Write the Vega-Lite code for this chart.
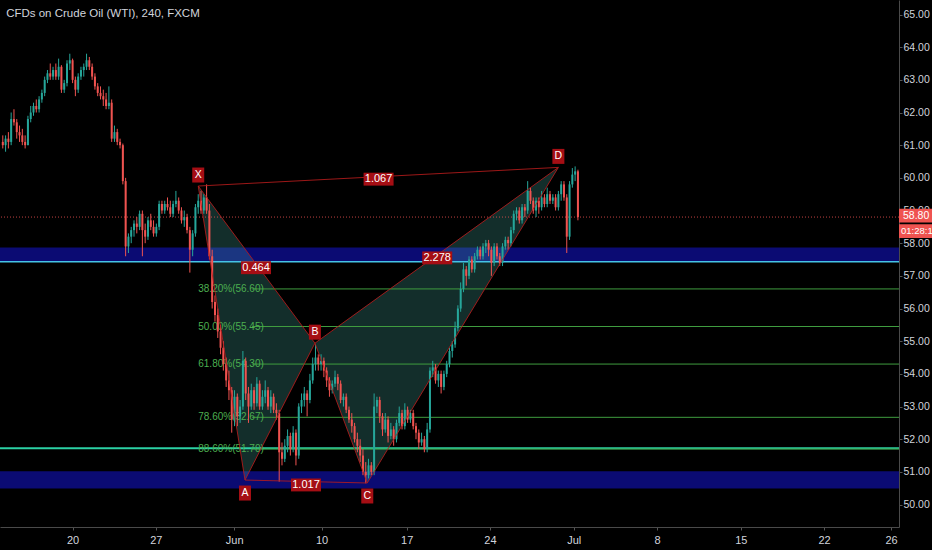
{
  "$schema": "https://vega.github.io/schema/vega-lite/v6.json",
  "width": 899,
  "height": 527,
  "autosize": {"type": "none"},
  "padding": {"left": 0, "top": 0, "right": 33, "bottom": 23},
  "background": "#000000",
  "config": {
    "view": {"stroke": null},
    "axis": {"labelOverlap": false, "labelFlush": false, "labelBound": false},
    "axisY": {"tickCount": 16, "values": [50, 51, 52, 53, 54, 55, 56, 57, 58, 59, 60, 61, 62, 63, 64, 65]},
    "scale": {"continuousPadding": 0}
  },
  "datasets": {
    "one": [{}],
    "candles": [
      {"i":1,"o":61.1,"h":61.3,"l":60.9,"c":61.0},
      {"i":2,"o":61.0,"h":61.3,"l":60.8,"c":61.2},
      {"i":3,"o":61.2,"h":61.4,"l":60.9,"c":61.1},
      {"i":4,"o":61.1,"h":62.0,"l":61.0,"c":61.8},
      {"i":5,"o":61.8,"h":62.1,"l":61.6,"c":61.7},
      {"i":6,"o":61.7,"h":61.8,"l":61.2,"c":61.4},
      {"i":7,"o":61.4,"h":61.6,"l":61.1,"c":61.3},
      {"i":8,"o":61.3,"h":61.5,"l":61.0,"c":61.1},
      {"i":9,"o":61.1,"h":61.3,"l":60.9,"c":61.0},
      {"i":10,"o":61.0,"h":61.9,"l":61.0,"c":61.8},
      {"i":11,"o":61.8,"h":62.2,"l":61.7,"c":62.0},
      {"i":12,"o":62.0,"h":62.3,"l":61.9,"c":62.2},
      {"i":13,"o":62.2,"h":62.4,"l":62.0,"c":62.1},
      {"i":14,"o":62.1,"h":62.5,"l":62.0,"c":62.4},
      {"i":15,"o":62.4,"h":62.7,"l":62.3,"c":62.6},
      {"i":16,"o":62.6,"h":63.1,"l":62.5,"c":63.0},
      {"i":17,"o":63.0,"h":63.3,"l":62.9,"c":63.2},
      {"i":18,"o":63.2,"h":63.5,"l":63.0,"c":63.1},
      {"i":19,"o":63.1,"h":63.4,"l":63.0,"c":63.3},
      {"i":20,"o":63.3,"h":63.5,"l":63.0,"c":63.1},
      {"i":21,"o":63.1,"h":63.65,"l":63.0,"c":63.4},
      {"i":22,"o":63.4,"h":63.45,"l":62.6,"c":62.7},
      {"i":23,"o":62.7,"h":63.0,"l":62.6,"c":62.9},
      {"i":24,"o":62.9,"h":63.6,"l":62.8,"c":63.5},
      {"i":25,"o":63.5,"h":63.8,"l":63.3,"c":63.6},
      {"i":26,"o":63.6,"h":63.65,"l":62.9,"c":63.0},
      {"i":27,"o":63.0,"h":63.1,"l":62.5,"c":62.7},
      {"i":28,"o":62.7,"h":63.2,"l":62.6,"c":63.1},
      {"i":29,"o":63.1,"h":63.4,"l":63.0,"c":63.3},
      {"i":30,"o":63.3,"h":63.5,"l":63.1,"c":63.4},
      {"i":31,"o":63.4,"h":63.8,"l":63.3,"c":63.6},
      {"i":32,"o":63.6,"h":63.7,"l":63.3,"c":63.4},
      {"i":33,"o":63.4,"h":63.5,"l":63.0,"c":63.1},
      {"i":34,"o":63.1,"h":63.2,"l":62.7,"c":62.8},
      {"i":35,"o":62.8,"h":62.9,"l":62.5,"c":62.6},
      {"i":36,"o":62.6,"h":62.8,"l":62.4,"c":62.5},
      {"i":37,"o":62.5,"h":62.7,"l":62.2,"c":62.4},
      {"i":38,"o":62.4,"h":62.6,"l":62.1,"c":62.2},
      {"i":39,"o":62.2,"h":62.8,"l":62.1,"c":62.3},
      {"i":40,"o":62.3,"h":62.4,"l":61.1,"c":61.2},
      {"i":41,"o":61.2,"h":61.6,"l":61.1,"c":61.4},
      {"i":42,"o":61.4,"h":61.5,"l":61.0,"c":61.1},
      {"i":43,"o":61.1,"h":61.2,"l":60.9,"c":61.0},
      {"i":44,"o":61.0,"h":61.05,"l":59.8,"c":59.9},
      {"i":45,"o":59.9,"h":60.0,"l":57.6,"c":57.9},
      {"i":46,"o":57.9,"h":58.3,"l":57.7,"c":58.2},
      {"i":47,"o":58.2,"h":58.5,"l":58.0,"c":58.4},
      {"i":48,"o":58.4,"h":58.7,"l":58.2,"c":58.6},
      {"i":49,"o":58.6,"h":58.8,"l":58.3,"c":58.5},
      {"i":50,"o":58.5,"h":59.0,"l":58.4,"c":58.9},
      {"i":51,"o":58.9,"h":59.0,"l":57.6,"c":58.4},
      {"i":52,"o":58.4,"h":58.6,"l":58.0,"c":58.2},
      {"i":53,"o":58.2,"h":58.8,"l":58.1,"c":58.7},
      {"i":54,"o":58.7,"h":58.9,"l":58.4,"c":58.5},
      {"i":55,"o":58.5,"h":58.7,"l":58.2,"c":58.3},
      {"i":56,"o":58.3,"h":58.6,"l":58.2,"c":58.5},
      {"i":57,"o":58.5,"h":59.3,"l":58.4,"c":59.2},
      {"i":58,"o":59.2,"h":59.3,"l":58.9,"c":59.0},
      {"i":59,"o":59.0,"h":59.3,"l":58.9,"c":59.2},
      {"i":60,"o":59.2,"h":59.4,"l":59.0,"c":59.1},
      {"i":61,"o":59.1,"h":59.3,"l":58.8,"c":58.9},
      {"i":62,"o":58.9,"h":59.3,"l":58.8,"c":59.2},
      {"i":63,"o":59.2,"h":59.6,"l":59.1,"c":59.3},
      {"i":64,"o":59.3,"h":59.4,"l":58.9,"c":59.0},
      {"i":65,"o":59.0,"h":59.1,"l":58.6,"c":58.7},
      {"i":66,"o":58.7,"h":59.0,"l":58.5,"c":58.8},
      {"i":67,"o":58.8,"h":58.9,"l":58.3,"c":58.4},
      {"i":68,"o":58.4,"h":58.5,"l":57.1,"c":57.8},
      {"i":69,"o":57.8,"h":58.4,"l":57.6,"c":58.3},
      {"i":70,"o":58.3,"h":59.2,"l":58.2,"c":59.1},
      {"i":71,"o":59.1,"h":59.5,"l":58.9,"c":59.3},
      {"i":72,"o":59.3,"h":59.6,"l":58.9,"c":59.0},
      {"i":73,"o":59.0,"h":59.5,"l":58.9,"c":59.4},
      {"i":74,"o":59.4,"h":59.8,"l":58.9,"c":59.0},
      {"i":75,"o":59.0,"h":59.2,"l":57.5,"c":57.6},
      {"i":76,"o":57.6,"h":57.8,"l":56.0,"c":56.2},
      {"i":77,"o":56.2,"h":56.4,"l":55.6,"c":55.8},
      {"i":78,"o":55.8,"h":56.0,"l":55.1,"c":55.3},
      {"i":79,"o":55.3,"h":55.5,"l":54.6,"c":54.8},
      {"i":80,"o":54.8,"h":55.0,"l":54.1,"c":54.3},
      {"i":81,"o":54.3,"h":54.5,"l":53.6,"c":53.8},
      {"i":82,"o":53.8,"h":54.1,"l":53.2,"c":53.5},
      {"i":83,"o":53.5,"h":53.6,"l":52.2,"c":52.6},
      {"i":84,"o":52.6,"h":53.5,"l":52.4,"c":53.3},
      {"i":85,"o":53.3,"h":53.4,"l":52.4,"c":52.7},
      {"i":86,"o":52.7,"h":53.2,"l":52.5,"c":53.0},
      {"i":87,"o":53.0,"h":54.7,"l":52.9,"c":54.4},
      {"i":88,"o":54.4,"h":54.5,"l":53.2,"c":53.4},
      {"i":89,"o":53.4,"h":53.6,"l":52.5,"c":53.0},
      {"i":90,"o":53.0,"h":53.7,"l":52.9,"c":53.5},
      {"i":91,"o":53.5,"h":53.6,"l":52.9,"c":53.1},
      {"i":92,"o":53.1,"h":53.9,"l":53.0,"c":53.7},
      {"i":93,"o":53.7,"h":53.8,"l":52.9,"c":53.0},
      {"i":94,"o":53.0,"h":53.5,"l":52.9,"c":53.3},
      {"i":95,"o":53.3,"h":53.8,"l":53.1,"c":53.5},
      {"i":96,"o":53.5,"h":53.6,"l":52.9,"c":53.0},
      {"i":97,"o":53.0,"h":53.5,"l":52.8,"c":53.3},
      {"i":98,"o":53.3,"h":53.4,"l":52.8,"c":52.9},
      {"i":99,"o":52.9,"h":53.1,"l":52.6,"c":52.8},
      {"i":100,"o":52.8,"h":52.9,"l":50.7,"c":51.6},
      {"i":101,"o":51.6,"h":51.9,"l":51.2,"c":51.4},
      {"i":102,"o":51.4,"h":52.0,"l":51.3,"c":51.8},
      {"i":103,"o":51.8,"h":52.3,"l":51.6,"c":52.1},
      {"i":104,"o":52.1,"h":52.2,"l":51.5,"c":51.7},
      {"i":105,"o":51.7,"h":52.4,"l":51.6,"c":52.2},
      {"i":106,"o":52.2,"h":52.3,"l":51.2,"c":51.5},
      {"i":107,"o":51.5,"h":53.1,"l":51.4,"c":53.0},
      {"i":108,"o":53.0,"h":53.4,"l":52.8,"c":53.2},
      {"i":109,"o":53.2,"h":53.6,"l":53.0,"c":53.4},
      {"i":110,"o":53.4,"h":53.5,"l":52.7,"c":53.2},
      {"i":111,"o":53.2,"h":54.0,"l":53.1,"c":53.8},
      {"i":112,"o":53.8,"h":54.5,"l":53.7,"c":54.3},
      {"i":113,"o":54.3,"h":54.9,"l":54.1,"c":54.5},
      {"i":114,"o":54.5,"h":54.6,"l":54.1,"c":54.3},
      {"i":115,"o":54.3,"h":54.6,"l":54.1,"c":54.4},
      {"i":116,"o":54.4,"h":54.5,"l":53.9,"c":54.1},
      {"i":117,"o":54.1,"h":54.2,"l":53.6,"c":53.8},
      {"i":118,"o":53.8,"h":53.9,"l":53.3,"c":53.5},
      {"i":119,"o":53.5,"h":53.8,"l":53.4,"c":53.7},
      {"i":120,"o":53.7,"h":54.1,"l":53.6,"c":53.9},
      {"i":121,"o":53.9,"h":54.0,"l":53.5,"c":53.7},
      {"i":122,"o":53.7,"h":53.8,"l":53.1,"c":53.2},
      {"i":123,"o":53.2,"h":53.4,"l":53.0,"c":53.3},
      {"i":124,"o":53.3,"h":53.4,"l":52.8,"c":52.9},
      {"i":125,"o":52.9,"h":53.0,"l":52.5,"c":52.6},
      {"i":126,"o":52.6,"h":52.8,"l":52.2,"c":52.4},
      {"i":127,"o":52.4,"h":52.5,"l":51.9,"c":52.0},
      {"i":128,"o":52.0,"h":52.2,"l":51.6,"c":51.8},
      {"i":129,"o":51.8,"h":52.0,"l":51.3,"c":51.5},
      {"i":130,"o":51.5,"h":51.7,"l":50.9,"c":51.0},
      {"i":131,"o":51.0,"h":51.3,"l":50.65,"c":50.9},
      {"i":132,"o":50.9,"h":51.4,"l":50.8,"c":51.2},
      {"i":133,"o":51.2,"h":51.3,"l":50.9,"c":51.0},
      {"i":134,"o":51.0,"h":53.4,"l":50.9,"c":53.0},
      {"i":135,"o":53.0,"h":53.3,"l":52.8,"c":53.2},
      {"i":136,"o":53.2,"h":53.3,"l":52.5,"c":52.7},
      {"i":137,"o":52.7,"h":52.8,"l":52.1,"c":52.3},
      {"i":138,"o":52.3,"h":52.8,"l":52.2,"c":52.6},
      {"i":139,"o":52.6,"h":52.7,"l":51.9,"c":52.1},
      {"i":140,"o":52.1,"h":52.5,"l":52.0,"c":52.3},
      {"i":141,"o":52.3,"h":52.4,"l":51.8,"c":52.0},
      {"i":142,"o":52.0,"h":52.6,"l":51.9,"c":52.5},
      {"i":143,"o":52.5,"h":53.0,"l":52.4,"c":52.8},
      {"i":144,"o":52.8,"h":52.9,"l":52.3,"c":52.4},
      {"i":145,"o":52.4,"h":53.1,"l":52.3,"c":52.9},
      {"i":146,"o":52.9,"h":53.0,"l":52.5,"c":52.6},
      {"i":147,"o":52.6,"h":52.9,"l":52.5,"c":52.8},
      {"i":148,"o":52.8,"h":52.9,"l":52.3,"c":52.4},
      {"i":149,"o":52.4,"h":52.5,"l":52.0,"c":52.2},
      {"i":150,"o":52.2,"h":52.3,"l":51.7,"c":51.9},
      {"i":151,"o":51.9,"h":52.2,"l":51.8,"c":52.0},
      {"i":152,"o":52.0,"h":52.1,"l":51.6,"c":51.7},
      {"i":153,"o":51.7,"h":52.5,"l":51.6,"c":52.3},
      {"i":154,"o":52.3,"h":54.2,"l":52.2,"c":54.1},
      {"i":155,"o":54.1,"h":54.4,"l":53.9,"c":54.2},
      {"i":156,"o":54.2,"h":54.3,"l":53.7,"c":53.8},
      {"i":157,"o":53.8,"h":54.1,"l":53.6,"c":54.0},
      {"i":158,"o":54.0,"h":54.1,"l":53.4,"c":53.6},
      {"i":159,"o":53.6,"h":54.1,"l":53.5,"c":54.0},
      {"i":160,"o":54.0,"h":54.4,"l":53.9,"c":54.3},
      {"i":161,"o":54.3,"h":54.8,"l":54.2,"c":54.7},
      {"i":162,"o":54.7,"h":55.0,"l":54.5,"c":54.9},
      {"i":163,"o":54.9,"h":55.6,"l":54.8,"c":55.4},
      {"i":164,"o":55.4,"h":56.1,"l":55.3,"c":56.0},
      {"i":165,"o":56.0,"h":56.8,"l":55.9,"c":56.6},
      {"i":166,"o":56.6,"h":57.4,"l":56.5,"c":57.2},
      {"i":167,"o":57.2,"h":57.3,"l":56.7,"c":57.0},
      {"i":168,"o":57.0,"h":57.6,"l":56.9,"c":57.5},
      {"i":169,"o":57.5,"h":57.6,"l":57.1,"c":57.2},
      {"i":170,"o":57.2,"h":57.7,"l":57.1,"c":57.6},
      {"i":171,"o":57.6,"h":57.9,"l":57.5,"c":57.8},
      {"i":172,"o":57.8,"h":57.9,"l":57.5,"c":57.6},
      {"i":173,"o":57.6,"h":58.0,"l":57.5,"c":57.9},
      {"i":174,"o":57.9,"h":58.1,"l":57.7,"c":58.0},
      {"i":175,"o":58.0,"h":58.1,"l":57.6,"c":57.8},
      {"i":176,"o":57.8,"h":57.9,"l":57.0,"c":57.4},
      {"i":177,"o":57.4,"h":58.0,"l":57.3,"c":57.9},
      {"i":178,"o":57.9,"h":58.0,"l":57.5,"c":57.6},
      {"i":179,"o":57.6,"h":57.7,"l":57.3,"c":57.4},
      {"i":180,"o":57.4,"h":58.0,"l":57.3,"c":57.9},
      {"i":181,"o":57.9,"h":58.2,"l":57.8,"c":58.1},
      {"i":182,"o":58.1,"h":58.2,"l":57.8,"c":58.0},
      {"i":183,"o":58.0,"h":58.5,"l":57.9,"c":58.4},
      {"i":184,"o":58.4,"h":59.0,"l":58.3,"c":58.9},
      {"i":185,"o":58.9,"h":59.1,"l":58.7,"c":59.0},
      {"i":186,"o":59.0,"h":59.1,"l":58.6,"c":58.7},
      {"i":187,"o":58.7,"h":59.2,"l":58.6,"c":59.1},
      {"i":188,"o":59.1,"h":59.2,"l":58.8,"c":59.0},
      {"i":189,"o":59.0,"h":59.9,"l":58.9,"c":59.6},
      {"i":190,"o":59.6,"h":59.7,"l":59.2,"c":59.3},
      {"i":191,"o":59.3,"h":59.4,"l":58.9,"c":59.0},
      {"i":192,"o":59.0,"h":59.4,"l":58.8,"c":59.3},
      {"i":193,"o":59.3,"h":59.4,"l":58.9,"c":59.1},
      {"i":194,"o":59.1,"h":59.6,"l":59.0,"c":59.4},
      {"i":195,"o":59.4,"h":59.5,"l":59.1,"c":59.2},
      {"i":196,"o":59.2,"h":59.7,"l":59.1,"c":59.5},
      {"i":197,"o":59.5,"h":59.6,"l":59.2,"c":59.3},
      {"i":198,"o":59.3,"h":59.5,"l":59.2,"c":59.4},
      {"i":199,"o":59.4,"h":59.5,"l":59.0,"c":59.1},
      {"i":200,"o":59.1,"h":59.6,"l":59.0,"c":59.5},
      {"i":201,"o":59.5,"h":59.9,"l":59.3,"c":59.8},
      {"i":202,"o":59.8,"h":59.9,"l":59.3,"c":59.4},
      {"i":203,"o":59.4,"h":59.5,"l":57.7,"c":58.2},
      {"i":204,"o":58.2,"h":59.9,"l":58.1,"c":59.8},
      {"i":205,"o":59.8,"h":60.3,"l":59.7,"c":60.1},
      {"i":206,"o":60.1,"h":60.35,"l":59.9,"c":60.2},
      {"i":207,"o":60.2,"h":60.25,"l":58.7,"c":58.8}
    ],
    "bands": [
      {"y": 57.43, "y2": 57.87},
      {"y": 50.49, "y2": 51.02}
    ],
    "tri": [
      {"g": "XAB", "x": 71.0, "y": 59.75, "y2": 59.75},
      {"g": "XAB", "x": 87.75, "y": 57.82, "y2": 50.75},
      {"g": "XAB", "x": 112.8, "y": 54.94, "y2": 54.94},
      {"g": "BCD", "x": 112.8, "y": 54.94, "y2": 54.94},
      {"g": "BCD", "x": 131.55, "y": 56.1, "y2": 50.66},
      {"g": "BCD", "x": 200.0, "y": 60.32, "y2": 60.32}
    ],
    "seg": [
      {"x": 71.0, "y": 59.75, "x2": 87.75, "y2": 50.75},
      {"x": 87.75, "y": 50.75, "x2": 112.8, "y2": 54.94},
      {"x": 112.8, "y": 54.94, "x2": 131.55, "y2": 50.66},
      {"x": 131.55, "y": 50.66, "x2": 200.0, "y2": 60.32},
      {"x": 71.0, "y": 59.75, "x2": 112.8, "y2": 54.94},
      {"x": 112.8, "y": 54.94, "x2": 200.0, "y2": 60.32},
      {"x": 71.0, "y": 59.75, "x2": 200.0, "y2": 60.32},
      {"x": 87.75, "y": 50.75, "x2": 131.55, "y2": 50.66}
    ],
    "fib": [
      {"v": 56.6, "t": "38.20%(56.60)"},
      {"v": 55.45, "t": "50.00%(55.45)"},
      {"v": 54.3, "t": "61.80%(54.30)"},
      {"v": 52.67, "t": "78.60%(52.67)"},
      {"v": 51.7, "t": "88.60%(51.70)"}
    ],
    "pts": [
      {"k": "X", "x": 71.0, "y": 59.75, "p": "t"},
      {"k": "A", "x": 87.75, "y": 50.75, "p": "b"},
      {"k": "B", "x": 112.8, "y": 54.94, "p": "t"},
      {"k": "C", "x": 131.55, "y": 50.66, "p": "b"},
      {"k": "D", "x": 200.0, "y": 60.32, "p": "t"}
    ],
    "ratios": [
      {"t": "0.464", "x": 91.7, "y": 57.25},
      {"t": "1.067", "x": 135.6, "y": 59.96},
      {"t": "2.278", "x": 156.6, "y": 57.55},
      {"t": "1.017", "x": 109.6, "y": 50.6}
    ]
  },
  "layer": [
    {
      "data": {"name": "bands"},
      "mark": {"type": "rect", "color": "#0b0b73"},
      "encoding": {
        "x": {"datum": 0, "type": "quantitative",
          "scale": {"domain": [0, 322], "nice": false, "zero": false, "padding": 0},
          "axis": {
            "title": null, "orient": "bottom", "grid": false,
            "values": [25.97, 55.8, 83.89, 115.19, 145.67, 175.47, 205.49, 235.32, 265.34, 295.14, 319.14],
            "labelExpr": "datum.value < 40 ? '20' : datum.value < 70 ? '27' : datum.value < 100 ? 'Jun' : datum.value < 130 ? '10' : datum.value < 160 ? '17' : datum.value < 190 ? '24' : datum.value < 220 ? 'Jul' : datum.value < 250 ? '8' : datum.value < 280 ? '15' : datum.value < 305 ? '22' : '26'",
            "labelColor": "#d1d4dc", "labelFont": "Liberation Sans",
            "labelFontSize": 11, "labelPadding": 4, "tickSize": 3, "tickColor": "#555555",
            "domainColor": "#4a4a4a", "labelFlush": false, "labelOverlap": false
          }
        },
        "x2": {"datum": 322},
        "y": {"field": "y", "type": "quantitative",
          "scale": {"domain": [49.313, 65.444], "nice": false, "zero": false, "padding": 0},
          "axis": {
            "title": null, "orient": "right", "grid": false,
            "values": [50, 51, 52, 53, 54, 55, 56, 57, 58, 59, 60, 61, 62, 63, 64, 65],
            "tickCount": 16,
            "format": ".2f",
            "labelColor": "#d1d4dc", "labelFont": "Liberation Sans",
            "labelFontSize": 10.5, "labelPadding": 1, "tickSize": 3, "tickColor": "#555555",
            "domainColor": "#4a4a4a", "labelFlush": false, "labelOverlap": false
          }
        },
        "y2": {"field": "y2"}
      }
    },
    {
      "data": {"name": "tri"},
      "mark": {"type": "area", "color": "#4db6ac", "opacity": 0.25},
      "encoding": {
        "x": {"field": "x", "type": "quantitative"},
        "y": {"field": "y", "type": "quantitative"},
        "y2": {"field": "y2"},
        "detail": {"field": "g"}
      }
    },
    {
      "data": {"name": "one"},
      "mark": {"type": "rule", "color": "#45c3e6", "strokeWidth": 1.5},
      "encoding": {"y": {"datum": 57.43, "type": "quantitative"}}
    },
    {
      "data": {"name": "one"},
      "mark": {"type": "rule", "color": "#2bd1a4", "strokeWidth": 2},
      "encoding": {"y": {"datum": 51.72, "type": "quantitative"}}
    },
    {
      "data": {"name": "fib"},
      "mark": {"type": "rule", "color": "#3f9c3f", "strokeWidth": 1},
      "encoding": {
        "x": {"datum": 90.3, "type": "quantitative"},
        "x2": {"datum": 322},
        "y": {"field": "v", "type": "quantitative"}
      }
    },
    {
      "data": {"name": "fib"},
      "mark": {"type": "text", "align": "left", "baseline": "middle", "color": "#4caf50",
        "font": "Liberation Sans", "fontSize": 10},
      "encoding": {
        "x": {"datum": 71.0, "type": "quantitative"},
        "y": {"field": "v", "type": "quantitative"},
        "text": {"field": "t"}
      }
    },
    {
      "data": {"name": "one"},
      "mark": {"type": "rule", "color": "#ef5350", "strokeWidth": 1, "strokeDash": [1, 2], "opacity": 0.8},
      "encoding": {"y": {"datum": 58.8, "type": "quantitative"}}
    },
    {
      "data": {"name": "candles"},
      "mark": {"type": "rule", "strokeWidth": 1},
      "encoding": {
        "x": {"field": "i", "type": "quantitative"},
        "y": {"field": "l", "type": "quantitative"},
        "y2": {"field": "h"},
        "color": {"condition": {"test": "datum.c >= datum.o", "value": "#26a69a"}, "value": "#ef5350"}
      }
    },
    {
      "data": {"name": "candles"},
      "mark": {"type": "bar", "width": 2},
      "encoding": {
        "x": {"field": "i", "type": "quantitative"},
        "y": {"field": "o", "type": "quantitative"},
        "y2": {"field": "c"},
        "color": {"condition": {"test": "datum.c >= datum.o", "value": "#26a69a"}, "value": "#ef5350"}
      }
    },
    {
      "data": {"name": "seg"},
      "mark": {"type": "rule", "color": "#b71c1c", "strokeWidth": 1, "opacity": 0.85},
      "encoding": {
        "x": {"field": "x", "type": "quantitative"},
        "x2": {"field": "x2"},
        "y": {"field": "y", "type": "quantitative"},
        "y2": {"field": "y2"}
      }
    },
    {
      "data": {"name": "ratios"},
      "mark": {"type": "point", "filled": true, "opacity": 1, "strokeWidth": 0, "color": "#a50e14",
        "shape": "M-1,-0.43L1,-0.43L1,0.43L-1,0.43Z", "size": 900},
      "encoding": {
        "x": {"field": "x", "type": "quantitative"},
        "y": {"field": "y", "type": "quantitative"}
      }
    },
    {
      "data": {"name": "ratios"},
      "mark": {"type": "text", "align": "center", "baseline": "middle", "color": "#ffffff",
        "font": "Liberation Sans", "fontSize": 11},
      "encoding": {
        "x": {"field": "x", "type": "quantitative"},
        "y": {"field": "y", "type": "quantitative"},
        "text": {"field": "t"}
      }
    },
    {
      "data": {"name": "pts"},
      "transform": [{"filter": "datum.p == 't'"}],
      "mark": {"type": "point", "filled": true, "opacity": 1, "strokeWidth": 0, "color": "#a50e14",
        "shape": "M-0.8,-1L0.8,-1L0.8,1L-0.8,1Z", "size": 225, "yOffset": -11},
      "encoding": {
        "x": {"field": "x", "type": "quantitative"},
        "y": {"field": "y", "type": "quantitative"}
      }
    },
    {
      "data": {"name": "pts"},
      "transform": [{"filter": "datum.p == 't'"}],
      "mark": {"type": "text", "align": "center", "baseline": "middle", "color": "#ffffff", "dy": -11,
        "font": "Liberation Sans", "fontSize": 10.5},
      "encoding": {
        "x": {"field": "x", "type": "quantitative"},
        "y": {"field": "y", "type": "quantitative"},
        "text": {"field": "k"}
      }
    },
    {
      "data": {"name": "pts"},
      "transform": [{"filter": "datum.p == 'b'"}],
      "mark": {"type": "point", "filled": true, "opacity": 1, "strokeWidth": 0, "color": "#a50e14",
        "shape": "M-0.8,-1L0.8,-1L0.8,1L-0.8,1Z", "size": 225, "yOffset": 13},
      "encoding": {
        "x": {"field": "x", "type": "quantitative"},
        "y": {"field": "y", "type": "quantitative"}
      }
    },
    {
      "data": {"name": "pts"},
      "transform": [{"filter": "datum.p == 'b'"}],
      "mark": {"type": "text", "align": "center", "baseline": "middle", "color": "#ffffff", "dy": 13,
        "font": "Liberation Sans", "fontSize": 10.5},
      "encoding": {
        "x": {"field": "x", "type": "quantitative"},
        "y": {"field": "y", "type": "quantitative"},
        "text": {"field": "k"}
      }
    },
    {
      "data": {"name": "one"},
      "mark": {"type": "point", "filled": true, "opacity": 1, "strokeWidth": 0, "color": "#ef5350",
        "shape": "M-1,-0.42L1,-0.42L1,0.42L-1,0.42Z", "size": 1089, "xOffset": 16.5, "yOffset": -1.5, "clip": false},
      "encoding": {
        "x": {"datum": 322, "type": "quantitative"},
        "y": {"datum": 58.8, "type": "quantitative"}
      }
    },
    {
      "data": {"name": "one"},
      "mark": {"type": "point", "filled": true, "opacity": 1, "strokeWidth": 0, "color": "#ef5350",
        "shape": "M-1,-0.42L1,-0.42L1,0.42L-1,0.42Z", "size": 1089, "xOffset": 16.5, "yOffset": 14, "clip": false},
      "encoding": {
        "x": {"datum": 322, "type": "quantitative"},
        "y": {"datum": 58.8, "type": "quantitative"}
      }
    },
    {
      "data": {"name": "one"},
      "mark": {"type": "text", "align": "left", "baseline": "middle", "color": "#ffffff", "dx": 4, "dy": -1.5,
        "font": "Liberation Sans", "fontSize": 10.5},
      "encoding": {
        "x": {"datum": 322, "type": "quantitative"},
        "y": {"datum": 58.8, "type": "quantitative"},
        "text": {"value": "58.80"}
      }
    },
    {
      "data": {"name": "one"},
      "mark": {"type": "text", "align": "left", "baseline": "middle", "color": "#ffffff", "dx": 2, "dy": 14,
        "font": "Liberation Sans", "fontSize": 9.5},
      "encoding": {
        "x": {"datum": 322, "type": "quantitative"},
        "y": {"datum": 58.8, "type": "quantitative"},
        "text": {"value": "01:28:14"}
      }
    },
    {
      "data": {"name": "one"},
      "mark": {"type": "text", "align": "left", "baseline": "middle", "color": "#d1d4dc",
        "font": "Liberation Sans", "fontSize": 11.5},
      "encoding": {
        "x": {"datum": 2.2, "type": "quantitative"},
        "y": {"datum": 65.02, "type": "quantitative"},
        "text": {"value": "CFDs on Crude Oil (WTI), 240, FXCM"}
      }
    }
  ]
}
